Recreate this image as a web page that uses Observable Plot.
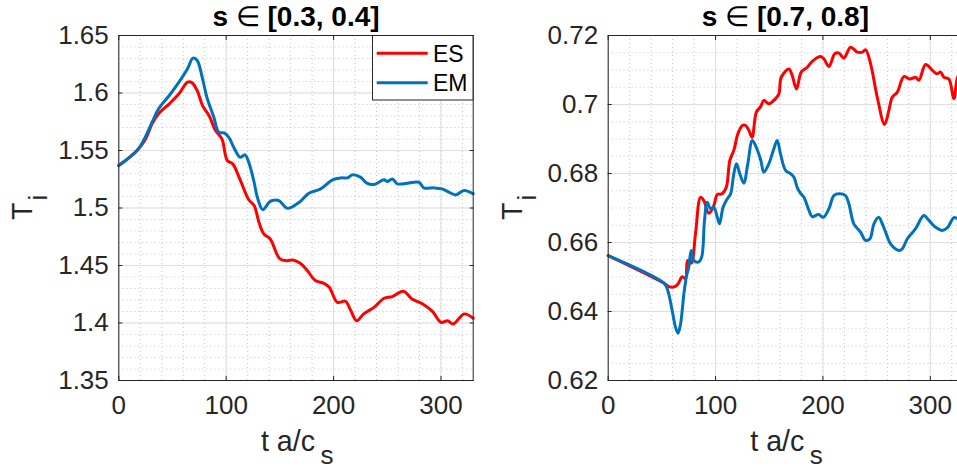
<!DOCTYPE html>
<html><head><meta charset="utf-8">
<script src="https://cdn.jsdelivr.net/npm/d3@7"></script>
<script src="https://cdn.jsdelivr.net/npm/@observablehq/plot@0.6"></script>
<style>
html,body{margin:0;padding:0;background:#fff;overflow:hidden;}
#wrap{position:relative;width:957px;height:470px;overflow:hidden;background:#fff;}
#left,#right{position:absolute;top:0;}
#left{left:0;width:480px;}
#right{left:480px;width:490px;}
#wrap svg{max-width:none !important;}
#legend{position:absolute;left:372px;top:35px;}
</style></head><body>
<div id="wrap"><div id="left"></div><div id="right"></div><svg id="legend" width="102" height="66"></svg></div>
<script>
// ---- data ----
const seriesNames = ["ES", "EM"];
const seriesColors = ["#ff0000", "#0072bd"];
const titles = ["s \u2208 [0.3, 0.4]", "s \u2208 [0.7, 0.8]"];
const xLabelMain = "t a/c";
const xLabelSub = "s";
const yLabelMain = "T";
const yLabelSub = "i";
const xTicks = [0, 100, 200, 300];
const yTicksLeft = [1.35, 1.4, 1.45, 1.5, 1.55, 1.6, 1.65];
const yTicksRight = [0.62, 0.64, 0.66, 0.68, 0.7, 0.72];

// left panel, s in [0.3, 0.4]
const tLeftES = [0, 9, 17, 25, 31, 37, 47, 56, 64, 68, 73, 78, 84, 90, 96, 101, 106, 113, 121, 126, 130.5, 135, 141, 150, 157, 162, 169, 175.5, 183, 191, 196, 203.5, 211, 216, 221.5, 228, 237.6, 247, 254.7, 265, 273, 283, 292, 300, 306, 311.5, 321.5, 330];
const vLeftES = [1.5369, 1.5433, 1.550, 1.5601, 1.5732, 1.5819, 1.5906, 1.5993, 1.6094, 1.609, 1.6021, 1.589, 1.5804, 1.5674, 1.5601, 1.5413, 1.5384, 1.5245, 1.5072, 1.5022, 1.4876, 1.4775, 1.4731, 1.4557, 1.4542, 1.4548, 1.4519, 1.4456, 1.4369, 1.4345, 1.431, 1.418, 1.4189, 1.4108, 1.402, 1.4079, 1.4136, 1.4215, 1.423, 1.4276, 1.4209, 1.4166, 1.4101, 1.4006, 1.402, 1.3992, 1.4079, 1.4041];
const tLeftEM = [0, 9, 17, 23, 31, 37, 47, 56, 64, 69, 73, 78, 82, 88.5, 93, 98, 102.5, 107, 113, 117.5, 121, 126, 129, 134, 140, 143, 149, 157, 168, 177, 188, 199, 207, 213, 217.5, 225, 231, 237.6, 247, 250, 254.7, 259.4, 268.7, 279.5, 284, 293.5, 301, 307.5, 313.7, 321.5, 330];
const vLeftEM = [1.5369, 1.5433, 1.550, 1.5586, 1.5746, 1.5862, 1.5978, 1.6094, 1.621, 1.6303, 1.6283, 1.6123, 1.5963, 1.5789, 1.5659, 1.5653, 1.5615, 1.5528, 1.5441, 1.5462, 1.5398, 1.5224, 1.5094, 1.4986, 1.505, 1.5065, 1.5065, 1.4997, 1.505, 1.5128, 1.5166, 1.5245, 1.5262, 1.5262, 1.5288, 1.5268, 1.5216, 1.5204, 1.5245, 1.523, 1.5253, 1.521, 1.5216, 1.5224, 1.5175, 1.5175, 1.5166, 1.5137, 1.5114, 1.5152, 1.5123];

// right panel, s in [0.7, 0.8]
const tRightES = [0, 52, 56.5, 62, 65, 69, 72, 74, 77.3, 81.3, 86, 89, 93.7, 98.4, 101.5, 106, 110, 113.3, 117, 120.8, 125, 128, 131, 134, 138, 142, 145, 149.6, 155.9, 159, 161.2, 168.3, 171.4, 175.4, 179.8, 185.4, 190, 197.8, 201, 205.6, 211, 215, 219.5, 225.8, 232, 236.7, 239.7, 244.4, 250.6, 257.4, 261.4, 264.6, 269.3, 275.4, 281, 286.3, 289.4, 295.6, 302, 306, 309.6, 312.7, 317.3, 322, 325.4, 330];
const vRightES = [0.6562, 0.6482, 0.6472, 0.6472, 0.648, 0.6501, 0.6495, 0.6548, 0.654, 0.6625, 0.6731, 0.6722, 0.6685, 0.6707, 0.6739, 0.6741, 0.676, 0.6838, 0.6867, 0.6915, 0.6939, 0.6939, 0.6925, 0.6905, 0.6978, 0.6994, 0.7012, 0.7002, 0.7017, 0.7031, 0.7079, 0.7103, 0.7084, 0.7045, 0.7094, 0.7108, 0.7125, 0.7139, 0.7132, 0.711, 0.7147, 0.7149, 0.7135, 0.7166, 0.7152, 0.7152, 0.7159, 0.7118, 0.7021, 0.6942, 0.6983, 0.7021, 0.7036, 0.7081, 0.7074, 0.7079, 0.707, 0.7116, 0.7099, 0.7089, 0.7094, 0.7079, 0.7074, 0.7017, 0.7079, 0.710];
const tRightEM = [0, 52, 55, 59.6, 62.7, 65, 67.4, 70.5, 73, 75, 77.3, 79.8, 84, 87, 89.7, 92.2, 95.3, 98.4, 101.6, 103.7, 107, 111, 114, 117, 119.5, 122.6, 126.3, 130, 134.2, 137.2, 142, 145, 149.6, 154.3, 157.4, 160.5, 165.2, 170, 173, 176, 179, 182.3, 187, 190, 196, 200.3, 205.6, 210.2, 215, 221, 224.2, 228.8, 235, 239.7, 243.8, 247.5, 252, 255.3, 258.4, 263, 270.8, 274, 278.6, 286.3, 294, 298.7, 305, 311.2, 316, 322, 326, 330];
const vRightEM = [0.6562, 0.6482, 0.6466, 0.6403, 0.6354, 0.6337, 0.6364, 0.6451, 0.6504, 0.6528, 0.6577, 0.6548, 0.6543, 0.6557, 0.6664, 0.6717, 0.6698, 0.6702, 0.6673, 0.6654, 0.6702, 0.6727, 0.6741, 0.6799, 0.6828, 0.6799, 0.6772, 0.6828, 0.6896, 0.6881, 0.684, 0.6804, 0.6828, 0.6872, 0.6896, 0.6857, 0.6809, 0.6799, 0.6789, 0.676, 0.6743, 0.6731, 0.6693, 0.6675, 0.6681, 0.6673, 0.6698, 0.6736, 0.6741, 0.6736, 0.6712, 0.6654, 0.663, 0.6606, 0.6611, 0.6654, 0.6673, 0.6654, 0.663, 0.6596, 0.6577, 0.6582, 0.6611, 0.664, 0.6678, 0.6664, 0.6644, 0.6635, 0.6643, 0.6672, 0.6669, 0.667];

// ---- drawing ----
const xMinor = d3.range(0, 340, 20);
const yMinorLeft = d3.range(135, 166).map(d => d / 100);
const yMinorRight = d3.range(124, 145).map(d => d / 200);
const fmt = d => String(+d.toFixed(2));
const FONT = "'Liberation Sans', Arial, Helvetica, sans-serif";

function panel(o) {
  const svg = Plot.plot({
    width: o.width, height: 470,
    marginLeft: o.marginLeft, marginRight: o.marginRight, marginTop: 35, marginBottom: 90,
    style: {fontFamily: FONT, fontSize: "26px", color: "#262626", background: "#fff", overflow: "visible"},
    x: {domain: [0, 330]},
    y: {domain: o.yDomain},
    marks: [
      Plot.gridX({ticks: xMinor, stroke: "#c4c4c4", strokeOpacity: 1, strokeDasharray: "1,3"}),
      Plot.gridY({ticks: o.yMinor, stroke: "#c4c4c4", strokeOpacity: 1, strokeDasharray: "1,3"}),
      Plot.gridX({ticks: xTicks, stroke: "#dedede", strokeOpacity: 1}),
      Plot.gridY({ticks: o.yTicks, stroke: "#dedede", strokeOpacity: 1}),
      Plot.line(o.tES, {x: o.tES, y: o.vES, stroke: seriesColors[0], strokeWidth: 3, curve: "catmull-rom"}),
      Plot.line(o.tEM, {x: o.tEM, y: o.vEM, stroke: seriesColors[1], strokeWidth: 3, curve: "catmull-rom"}),
      Plot.frame({stroke: "#262626", strokeWidth: 1}),
      Plot.axisX({anchor: "bottom", ticks: xTicks, tickSize: -4, tickPadding: 19, tickFormat: fmt, label: null, fontSize: 26}),
      Plot.axisX({anchor: "top", ticks: xTicks, tickSize: -4, tickFormat: () => "", label: null}),
      Plot.axisY({anchor: "left", ticks: o.yTicks, tickSize: -4, tickPadding: 14, tickFormat: fmt, label: null, fontSize: 26}),
      Plot.axisY({anchor: "right", ticks: o.yTicks, tickSize: -4, tickFormat: () => "", label: null}),
      Plot.text([o.title], {text: d => d, frameAnchor: "top", lineAnchor: "middle", dy: -18.4, fontSize: 28, fontWeight: "bold", fill: "#000"}),
      Plot.text([xLabelMain], {text: d => d, frameAnchor: "bottom", lineAnchor: "middle", textAnchor: "end", dx: 19, dy: 60.85, fontSize: 28.6, fill: "#262626"}),
      Plot.text([xLabelSub], {text: d => d, frameAnchor: "bottom", lineAnchor: "middle", textAnchor: "start", dx: 24.5, dy: 74.85, fontSize: 26, fill: "#262626"}),
      Plot.text([yLabelMain], {text: d => d, frameAnchor: "left", lineAnchor: "middle", rotate: -90, textAnchor: "end", dx: -95.5, dy: -5.5, fontSize: 28.6, fill: "#262626"}),
      Plot.text([yLabelSub], {text: d => d, frameAnchor: "left", lineAnchor: "middle", rotate: -90, textAnchor: "start", dx: -80.6, dy: -7.5, fontSize: 26, fill: "#262626"})
    ]
  });
  // the set-membership symbol in the title is drawn in normal weight, as in the original
  d3.select(svg).selectAll("text").each(function () {
    const s = this.textContent;
    if (this.childElementCount === 0 && s.includes("\u2208")) {
      const [a, b] = s.split("\u2208");
      this.textContent = "";
      this.appendChild(document.createTextNode(a));
      const ts = document.createElementNS("http://www.w3.org/2000/svg", "tspan");
      ts.setAttribute("font-weight", "normal");
      ts.textContent = "\u2208";
      this.appendChild(ts);
      this.appendChild(document.createTextNode(b));
    }
  });
  return svg;
}

document.getElementById("left").appendChild(panel({
  width: 480, marginLeft: 118.3, marginRight: 7.3,
  yDomain: [1.35, 1.65], yTicks: yTicksLeft, yMinor: yMinorLeft,
  tES: tLeftES, vES: vLeftES, tEM: tLeftEM, vEM: vLeftEM, title: titles[0]
}));
document.getElementById("right").appendChild(panel({
  width: 490, marginLeft: 127.7, marginRight: 8,
  yDomain: [0.62, 0.72], yTicks: yTicksRight, yMinor: yMinorRight,
  tES: tRightES, vES: vRightES, tEM: tRightEM, vEM: vRightEM, title: titles[1]
}));

// legend
const lg = d3.select("#legend");
lg.append("rect").attr("x", 0.5).attr("y", 0.5).attr("width", 100.5).attr("height", 64.5)
  .attr("fill", "#fff").attr("stroke", "#262626").attr("stroke-width", 1);
const rowY = [18.3, 47.7];
const textY = [26.7, 56];
seriesNames.forEach((name, i) => {
  lg.append("line").attr("x1", 4.7).attr("x2", 55.7).attr("y1", rowY[i]).attr("y2", rowY[i])
    .attr("stroke", seriesColors[i]).attr("stroke-width", 3);
  lg.append("text").attr("x", 61).attr("y", textY[i]).attr("font-family", FONT)
    .attr("font-size", 23).attr("fill", "#000").text(name);
});
</script>
</body></html>
